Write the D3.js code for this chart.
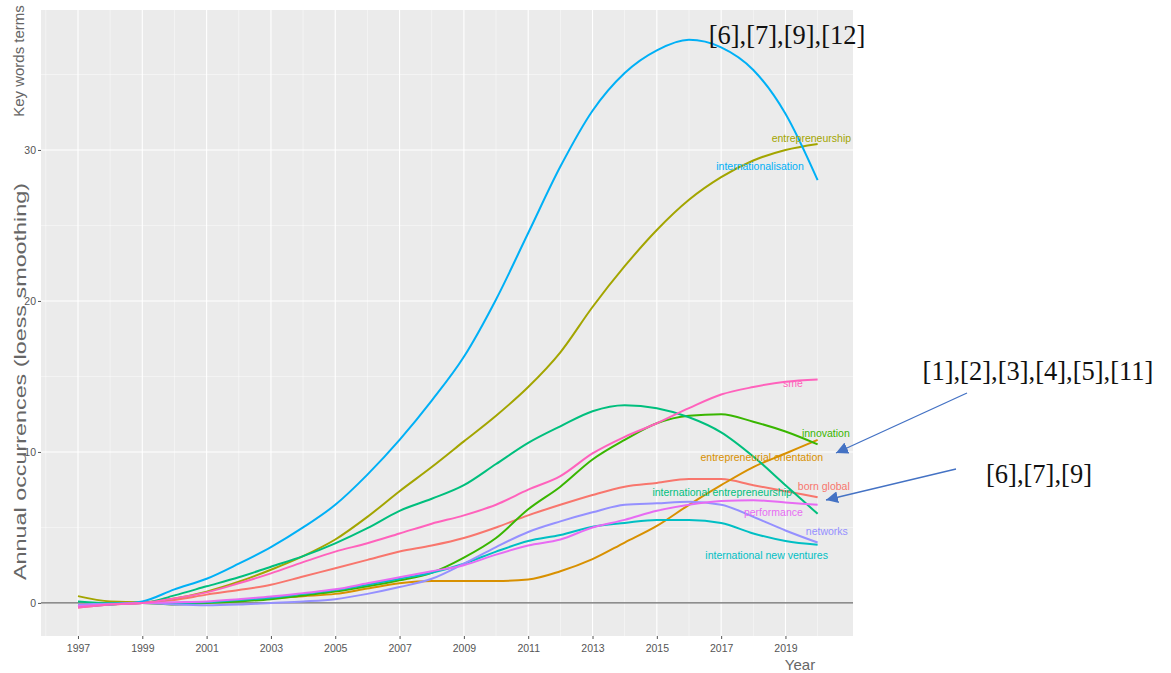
<!DOCTYPE html>
<html>
<head>
<meta charset="utf-8">
<script src="https://cdn.jsdelivr.net/npm/d3@7"></script>
<style>
  body { margin: 0; background: #fff; }
  svg text { font-family: "Liberation Sans Narrow", "Liberation Sans", Arial, sans-serif; }
</style>
</head>
<body>
<svg id="chart" width="1171" height="673"></svg>
<script>
// years on the x axis
var years = d3.range(1997, 2021)
var xTicks = [1997, 1999, 2001, 2003, 2005, 2007, 2009, 2011, 2013, 2015, 2017, 2019]
var yTicks = [0, 10, 20, 30]

// smoothed annual occurrences, 1997..2020
var bornGlobal = [-0.3, -0.1, 0.0, 0.2, 0.55, 0.85, 1.2, 1.75, 2.3, 2.85, 3.4, 3.8, 4.3, 5.0, 5.8, 6.5, 7.15, 7.7, 7.95, 8.2, 8.2, 7.8, 7.4, 7.0]
var entOrientation = [-0.1, 0.0, 0.0, 0.0, 0.05, 0.15, 0.3, 0.45, 0.6, 0.95, 1.3, 1.45, 1.45, 1.45, 1.55, 2.1, 2.9, 4.0, 5.1, 6.5, 7.8, 9.0, 9.9, 10.8]
var entrepreneurship = [0.45, 0.1, 0.05, 0.3, 0.75, 1.4, 2.2, 3.1, 4.2, 5.7, 7.4, 9.0, 10.7, 12.4, 14.3, 16.6, 19.6, 22.3, 24.7, 26.7, 28.2, 29.3, 30.0, 30.4]
var innovation = [-0.2, -0.1, 0.0, -0.1, 0.0, 0.1, 0.25, 0.5, 0.75, 1.1, 1.5, 2.0, 3.0, 4.3, 6.2, 7.7, 9.5, 10.8, 11.9, 12.4, 12.5, 12.0, 11.35, 10.5]
var intEntrepreneurship = [0.1, 0.0, 0.0, 0.5, 1.1, 1.7, 2.4, 3.1, 3.95, 4.95, 6.1, 6.9, 7.8, 9.2, 10.6, 11.7, 12.7, 13.1, 12.9, 12.3, 11.3, 9.7, 7.8, 5.9]
var intNewVentures = [-0.15, -0.05, 0.0, 0.0, 0.05, 0.2, 0.35, 0.6, 0.85, 1.2, 1.6, 2.0, 2.6, 3.4, 4.1, 4.5, 5.05, 5.3, 5.5, 5.5, 5.3, 4.6, 4.1, 3.85]
var internationalisation = [-0.2, -0.1, 0.1, 0.9, 1.6, 2.6, 3.7, 5.0, 6.5, 8.5, 10.8, 13.4, 16.3, 20.1, 24.5, 28.9, 32.6, 35.1, 36.6, 37.3, 36.8, 35.3, 32.4, 28.0]
var networks = [-0.1, -0.05, 0.0, -0.1, -0.15, -0.1, 0.0, 0.1, 0.25, 0.6, 1.05, 1.6, 2.6, 3.7, 4.7, 5.4, 6.0, 6.5, 6.6, 6.7, 6.5, 5.7, 4.8, 4.0]
var performance = [-0.2, -0.1, 0.0, 0.05, 0.1, 0.25, 0.42, 0.65, 0.9, 1.3, 1.7, 2.1, 2.5, 3.2, 3.8, 4.2, 5.0, 5.5, 6.1, 6.5, 6.75, 6.8, 6.65, 6.5]
var sme = [-0.3, -0.1, 0.0, 0.3, 0.7, 1.3, 1.96, 2.7, 3.4, 3.95, 4.6, 5.25, 5.8, 6.5, 7.5, 8.4, 9.9, 11.0, 11.9, 12.9, 13.8, 14.3, 14.65, 14.8]

var termNames = ["born global", "entrepreneurial orientation", "entrepreneurship", "innovation",
    "international entrepreneurship", "international new ventures", "internationalisation",
    "networks", "performance", "sme"]
var termValues = [bornGlobal, entOrientation, entrepreneurship, innovation, intEntrepreneurship,
    intNewVentures, internationalisation, networks, performance, sme]
var termColors = ["#F8766D", "#D89000", "#A3A500", "#39B600", "#00BF7D", "#00BFC4", "#00B0F6", "#9590FF", "#E76BF3", "#FF62BC"]

// where the direct labels sit (right edge x, y in data units)
var labelX = [2021.0, 2020.17, 2021.04, 2021.0, 2019.2, 2020.32, 2019.57, 2020.94, 2019.54, 2019.54]
var labelY = [7.75, 9.67, 30.8, 11.26, 7.35, 3.18, 28.9, 4.77, 6.03, 14.57]

var svg = d3.select("#chart")
var panel = { left: 41, top: 10, right: 853, bottom: 636 }

var x = d3.scaleLinear().domain([1995.85, 2021.1]).range([panel.left, panel.right])
var y = d3.scaleLinear().domain([-2.19, 39.27]).range([panel.bottom, panel.top])

svg.append("rect")
    .attr("x", panel.left).attr("y", panel.top)
    .attr("width", panel.right - panel.left).attr("height", panel.bottom - panel.top)
    .attr("fill", "#EBEBEB")

var grid = svg.append("g")
// minor grid
d3.range(1996, 2022, 2).forEach(function (yr) {
    grid.append("line").attr("x1", x(yr)).attr("x2", x(yr)).attr("y1", panel.top).attr("y2", panel.bottom)
        .attr("stroke", "#fff").attr("stroke-width", 0.6).attr("opacity", 0.8)
})
;[5, 15, 25, 35].forEach(function (v) {
    grid.append("line").attr("x1", panel.left).attr("x2", panel.right).attr("y1", y(v)).attr("y2", y(v))
        .attr("stroke", "#fff").attr("stroke-width", 0.6).attr("opacity", 0.8)
})
// major grid
xTicks.forEach(function (yr) {
    grid.append("line").attr("x1", x(yr)).attr("x2", x(yr)).attr("y1", panel.top).attr("y2", panel.bottom)
        .attr("stroke", "#fff").attr("stroke-width", 1.1)
})
yTicks.forEach(function (v) {
    grid.append("line").attr("x1", panel.left).attr("x2", panel.right).attr("y1", y(v)).attr("y2", y(v))
        .attr("stroke", "#fff").attr("stroke-width", 1.1)
})

// axes
var xAxis = svg.append("g")
    .attr("transform", "translate(0," + panel.bottom + ")")
    .call(d3.axisBottom(x).tickValues(xTicks).tickFormat(d3.format("d")).tickSize(3).tickPadding(6))
var yAxis = svg.append("g")
    .attr("transform", "translate(" + panel.left + ",0)")
    .call(d3.axisLeft(y).tickValues(yTicks).tickSize(3).tickPadding(2))
;[xAxis, yAxis].forEach(function (a) {
    a.select(".domain").remove()
    a.selectAll("line").attr("stroke", "#555")
    a.selectAll("text").attr("fill", "#555").style("font-size", "10.5px")
})

// zero line
svg.append("line")
    .attr("x1", panel.left).attr("x2", panel.right).attr("y1", y(0)).attr("y2", y(0))
    .attr("stroke", "#6a6a6a").attr("stroke-width", 1.2)

var line = d3.line()
    .x(function (d, i) { return x(years[i]) })
    .y(function (d) { return y(d) })
    .curve(d3.curveMonotoneX)

svg.append("g").selectAll("path")
    .data(termValues)
    .enter().append("path")
    .attr("d", line)
    .attr("fill", "none")
    .attr("stroke", function (d, i) { return termColors[i] })
    .attr("stroke-width", 2)

svg.append("g").selectAll("text")
    .data(termNames)
    .enter().append("text")
    .attr("x", function (d, i) { return x(labelX[i]) })
    .attr("y", function (d, i) { return y(labelY[i]) })
    .attr("text-anchor", "end")
    .attr("dy", "0.35em")
    .attr("fill", function (d, i) { return termColors[i] })
    .style("font-size", "10.5px")
    .text(function (d) { return d })

// axis titles (the long one is stretched along its length like the source image)
svg.append("text")
    .attr("transform", "translate(26,580) rotate(-90)")
    .attr("fill", "#666").style("font-size", "17px")
    .style("font-family", "'Liberation Sans', Arial, sans-serif")
    .attr("textLength", 397).attr("lengthAdjust", "spacingAndGlyphs")
    .text("Annual occurrences (loess smoothing)")
svg.append("text")
    .attr("transform", "translate(24,61) rotate(-90)")
    .attr("text-anchor", "middle")
    .attr("fill", "#666").style("font-size", "15px")
    .style("font-family", "'Liberation Sans', Arial, sans-serif")
    .text("Key words terms")
svg.append("text")
    .attr("x", 800).attr("y", 670)
    .attr("text-anchor", "middle")
    .attr("fill", "#666").style("font-size", "15px")
    .text("Year")

// reference annotations
var notes = [
    { t: "[6],[7],[9],[12]", x: 787, y: 44 },
    { t: "[1],[2],[3],[4],[5],[11]", x: 1038, y: 380 },
    { t: "[6],[7],[9]", x: 1039, y: 483 }
]
svg.append("g").selectAll("text")
    .data(notes)
    .enter().append("text")
    .attr("x", function (d) { return d.x })
    .attr("y", function (d) { return d.y })
    .attr("text-anchor", "middle")
    .attr("fill", "#111")
    .style("font-family", "'Liberation Serif', 'Times New Roman', serif")
    .style("font-size", "26.5px")
    .text(function (d) { return d.t })

svg.append("defs").append("marker")
    .attr("id", "head").attr("viewBox", "0 0 10 10")
    .attr("refX", 10).attr("refY", 5)
    .attr("markerWidth", 12).attr("markerHeight", 12)
    .attr("markerUnits", "userSpaceOnUse")
    .attr("orient", "auto")
    .append("path").attr("d", "M0,0 L10,5 L0,10 z").attr("fill", "#4472C4")

var arrows = [[967, 393, 836, 453], [956, 469, 826, 500]]
svg.append("g").selectAll("line")
    .data(arrows)
    .enter().append("line")
    .attr("x1", function (d) { return d[0] }).attr("y1", function (d) { return d[1] })
    .attr("x2", function (d) { return d[2] }).attr("y2", function (d) { return d[3] })
    .attr("stroke", "#4472C4").attr("stroke-width", 1.3)
    .attr("marker-end", "url(#head)")
</script>
</body>
</html>
